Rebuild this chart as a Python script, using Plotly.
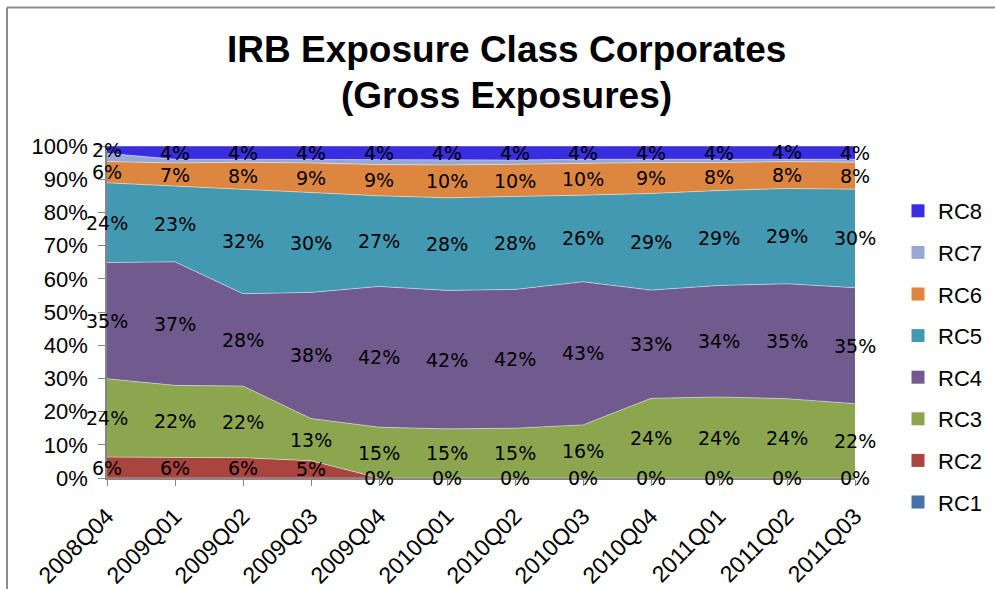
import plotly.graph_objects as go

quarters = ["2008Q04", "2009Q01", "2009Q02", "2009Q03", "2009Q04", "2010Q01",
            "2010Q02", "2010Q03", "2010Q04", "2011Q01", "2011Q02", "2011Q03"]

rc1 = [0, 0, 0, 0, 0, 0, 0, 0, 0, 0, 0, 0]
rc2 = [6.3, 6.3, 6.1, 5.2, 0, 0, 0, 0, 0, 0, 0, 0]
rc3 = [23.6, 21.6, 21.6, 12.7, 15.3, 14.8, 15.0, 16.0, 24.0, 24.4, 23.9, 22.4]
rc4 = [35.0, 37.2, 27.8, 38.0, 42.4, 41.7, 41.8, 43.1, 32.6, 33.6, 34.6, 34.9]
rc5 = [24.0, 22.8, 31.6, 30.0, 27.3, 27.9, 27.9, 26.1, 29.1, 28.6, 28.7, 29.7]
rc6 = [6.4, 7.0, 8.0, 9.0, 9.4, 9.9, 9.8, 9.6, 9.3, 8.4, 8.1, 8.1]
rc7 = [2.5, 1.1, 0.9, 1.0, 1.4, 1.4, 1.3, 1.2, 1.0, 1.0, 0.8, 0.9]
rc8 = [2.2, 4.0, 4.0, 4.1, 4.2, 4.3, 4.2, 4.0, 4.0, 4.0, 3.9, 4.0]

series = [
    ("RC1", rc1, "#4672A8", False),
    ("RC2", rc2, "#A9443F", True),
    ("RC3", rc3, "#8CA64F", True),
    ("RC4", rc4, "#715A8D", True),
    ("RC5", rc5, "#4399B1", True),
    ("RC6", rc6, "#DD8640", True),
    ("RC7", rc7, "#97A9D3", False),
    ("RC8", rc8, "#3A2DE0", True),
]

title_lines = ["IRB Exposure Class Corporates", "(Gross Exposures)"]

# Plot area in pixels
W, H = 995, 589
L, R, T, B = 107, 855, 146, 478
ml, mr, mt, mb = L, W - R, T, H - B


def px_x(p):
    return (p - L) / (R - L)


def px_y(p):
    return (B - p) / (B - T)


fig = go.Figure()
cum = [0.0] * len(quarters)
annotations = []
for name, vals, color, show_labels in series:
    fig.add_trace(go.Scatter(
        x=quarters, y=vals, name=name, mode="lines",
        stackgroup="one", groupnorm="percent",
        line=dict(width=1, color="rgba(255,255,255,0.45)" if name != "RC8" else "#9a9a9a"),
        fillcolor=color, showlegend=False, hoverinfo="skip",
    ))
    for i, v in enumerate(vals):
        mid = cum[i] + v / 2
        cum[i] += v
        if show_labels:
            annotations.append(dict(
                x=quarters[i], y=mid, xref="x", yref="y",
                text=f"{round(v):.0f}%", showarrow=False,
                font=dict(family="DejaVu Sans", size=19, color="black"),
            ))

# legend-only entries with square swatches, RC8 on top
for name, vals, color, _ in reversed(series):
    fig.add_trace(go.Scatter(
        x=[None], y=[None], mode="markers", name=name,
        marker=dict(symbol="square", size=13, color=color),
        legendgroup=name, showlegend=True,
    ))

for k, (txt, yc) in enumerate(zip(title_lines, [50, 96])):
    annotations.append(dict(
        x=px_x(506), y=px_y(yc), xref="paper", yref="paper",
        text=f"<b>{txt}</b>", showarrow=False, xanchor="center", yanchor="middle",
        font=dict(family="Liberation Sans", size=37, color="black"),
    ))

shapes = [
    dict(type="line", xref="paper", yref="paper",
         x0=px_x(7), y0=px_y(7.5), x1=px_x(1000), y1=px_y(7.5),
         line=dict(color="#8c8c8c", width=2)),
    dict(type="line", xref="paper", yref="paper",
         x0=px_x(7), y0=px_y(7.5), x1=px_x(7), y1=px_y(600),
         line=dict(color="#8c8c8c", width=2)),
]

fig.update_layout(
    width=W, height=H,
    margin=dict(l=ml, r=mr, t=mt, b=mb, autoexpand=False),
    paper_bgcolor="white", plot_bgcolor="white",
    font=dict(family="Liberation Sans", size=22, color="black"),
    showlegend=True,
    legend=dict(x=898 / W, y=1 - 190 / H, xref="container", yref="container",
                xanchor="left", yanchor="top",
                traceorder="grouped", tracegroupgap=10, maxheight=420,
                font=dict(family="Liberation Sans", size=22, color="black"),
                itemwidth=30, bgcolor="rgba(0,0,0,0)"),
    xaxis=dict(type="category", range=[0, len(quarters) - 1], showgrid=False,
               showline=True, linecolor="#868686", linewidth=1.5,
               ticks="outside", ticklen=6, tickcolor="#868686",
               tickangle=-45, tickfont=dict(family="Liberation Sans", size=23),
               ticklabelstandoff=8, zeroline=False, automargin=False),
    yaxis=dict(range=[0, 100], dtick=10, ticksuffix="%", showgrid=False,
               showline=True, linecolor="#868686", linewidth=1.5,
               ticks="outside", ticklen=7, tickcolor="#868686",
               tickfont=dict(family="Liberation Sans", size=22),
               ticklabelstandoff=6, zeroline=False, automargin=False),
    annotations=annotations,
    shapes=shapes,
)

fig.write_html("out.html", config={"displayModeBar": False},
               post_script="document.body.style.margin='0';")
